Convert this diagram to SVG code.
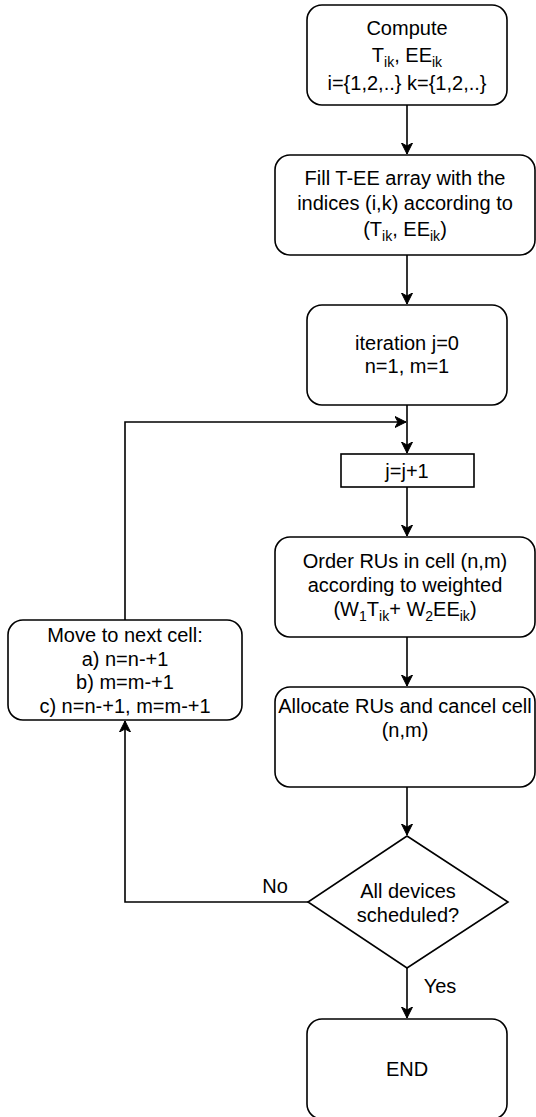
<svg xmlns="http://www.w3.org/2000/svg" width="536" height="1117" viewBox="0 0 536 1117">
<defs>
<marker id="arr" markerWidth="12" markerHeight="12" viewBox="0 0 12 12" refX="11" refY="6" orient="auto" markerUnits="userSpaceOnUse">
<path d="M0,0.5 L11,6 L0,11.5 L3,6 Z" fill="#000" stroke="#000" stroke-width="1"/>
</marker>
<style>
.box{fill:#fff;stroke:#000;stroke-width:1.6}
.t{font-family:"Liberation Sans",Arial,sans-serif;font-size:20px;fill:#000;text-anchor:middle}
.s{font-size:14px}
.c{fill:none;stroke:#000;stroke-width:1.6}
</style>
</defs>
<rect width="536" height="1117" fill="#fff"/>
<g id="connectors">
<path class="c" d="M407,105 V154" marker-end="url(#arr)"/>
<path class="c" d="M407,255 V304" marker-end="url(#arr)"/>
<path class="c" d="M407,405 V453" marker-end="url(#arr)"/>
<path class="c" d="M125,620 V422 H406" marker-end="url(#arr)"/>
<path class="c" d="M407,487 V536" marker-end="url(#arr)"/>
<path class="c" d="M407,637 V686" marker-end="url(#arr)"/>
<path class="c" d="M407,787 V835" marker-end="url(#arr)"/>
<path class="c" d="M308,902 H125 V721" marker-end="url(#arr)"/>
<path class="c" d="M407,968 V1018" marker-end="url(#arr)"/>
<text class="t" x="275" y="893">No</text>
<text class="t" x="440" y="993">Yes</text>
</g>
<g id="compute">
<rect class="box" x="307" y="5" width="200" height="100" rx="15"/>
<text class="t" x="407" y="35">Compute</text>
<text class="t" x="407" y="62">T<tspan class="s" dy="5">ik</tspan><tspan dy="-5">, EE</tspan><tspan class="s" dy="5">ik</tspan></text>
<text class="t" x="407" y="90">i={1,2,..} k={1,2,..}</text>
</g>
<g id="fill">
<rect class="box" x="275" y="155" width="260" height="100" rx="15"/>
<text class="t" x="405" y="185">Fill T-EE array with the</text>
<text class="t" x="405" y="210">indices (i,k) according to</text>
<text class="t" x="405" y="236">(T<tspan class="s" dy="5">ik</tspan><tspan dy="-5">, EE</tspan><tspan class="s" dy="5">ik</tspan><tspan dy="-5">)</tspan></text>
</g>
<g id="iteration">
<rect class="box" x="307" y="305" width="200" height="100" rx="15"/>
<text class="t" x="407" y="350">iteration j=0</text>
<text class="t" x="407" y="373">n=1, m=1</text>
</g>
<g id="jinc">
<rect class="box" x="341" y="454" width="133" height="33"/>
<text class="t" x="407" y="478">j=j+1</text>
</g>
<g id="order">
<rect class="box" x="275" y="537" width="260" height="100" rx="15"/>
<text class="t" x="405" y="568">Order RUs in cell (n,m)</text>
<text class="t" x="405" y="592">according to weighted</text>
<text class="t" x="405" y="616">(W<tspan class="s" dy="5">1</tspan><tspan dy="-5">T</tspan><tspan class="s" dy="5">ik</tspan><tspan dy="-5">+ W</tspan><tspan class="s" dy="5">2</tspan><tspan dy="-5">EE</tspan><tspan class="s" dy="5">ik</tspan><tspan dy="-5">)</tspan></text>
</g>
<g id="allocate">
<rect class="box" x="275" y="687" width="260" height="100" rx="15"/>
<text class="t" x="405" y="713">Allocate RUs and cancel cell</text>
<text class="t" x="405" y="737">(n,m)</text>
</g>
<g id="move">
<rect class="box" x="8" y="620" width="234" height="100" rx="15"/>
<text class="t" x="125" y="642">Move to next cell:</text>
<text class="t" x="125" y="666">a) n=n-+1</text>
<text class="t" x="125" y="689">b) m=m-+1</text>
<text class="t" x="125" y="713">c) n=n-+1, m=m-+1</text>
</g>
<g id="decision">
<polygon class="box" points="407,836 508,902 407,968 308,902"/>
<text class="t" x="408" y="898">All devices</text>
<text class="t" x="408" y="922">scheduled?</text>
</g>
<g id="end">
<rect class="box" x="307" y="1019" width="200" height="100" rx="15"/>
<text class="t" x="407" y="1076">END</text>
</g>
</svg>
